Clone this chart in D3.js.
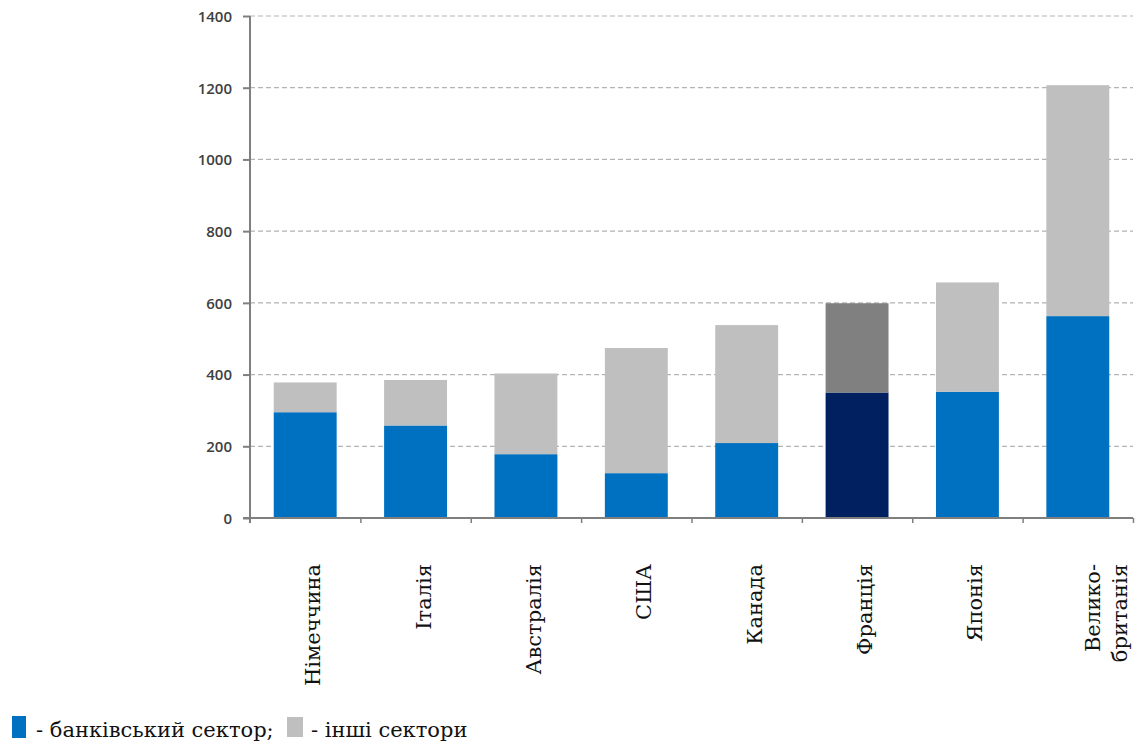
<!DOCTYPE html>
<html>
<head>
<meta charset="utf-8">
<script src="https://cdn.jsdelivr.net/npm/d3@7"></script>
<style>
  body { margin: 0; background: #fff; }
  .xlabel { font-family: "DejaVu Serif", serif; font-size: 21px; fill: #111; }
  .legend text { font-family: "DejaVu Serif", serif; font-size: 21px; fill: #111; }
</style>
</head>
<body>
<div id="plot"></div>
<script>
// data
var countries = [["Німеччина"], ["Італія"], ["Австралія"], ["США"], ["Канада"], ["Франція"], ["Японія"], ["Велико-", "британія"]]
var banking = [295, 258, 178, 125, 209, 350, 352, 563]
var others = [83, 127, 225, 349, 329, 249, 305, 644]
var yTicks = [0, 200, 400, 600, 800, 1000, 1200, 1400]
var highlight = 5 // Франція drawn darker

var svgWidth = 1137
var svgHeight = 743

var margin = { top: 16, right: 4, bottom: 225, left: 250 }
var width = 1133 - margin.left
var height = 518 - margin.top

var svg = d3.select("#plot")
  .append("svg")
  .attr("width", svgWidth)
  .attr("height", svgHeight)

var chartGroup = svg.append("g")
  .attr("transform", `translate(${margin.left}, ${margin.top})`)

var xBand = d3.scaleBand()
  .domain(d3.range(countries.length))
  .range([0, width])
  .paddingInner(0.43)
  .paddingOuter(0.215)

var yLinearScale = d3.scaleLinear()
  .domain([0, 1400])
  .range([height, 0])

// gridlines
chartGroup.selectAll(".grid")
  .data(yTicks.slice(1))
  .enter()
  .append("line")
  .attr("x1", 0)
  .attr("x2", width)
  .attr("y1", d => yLinearScale(d))
  .attr("y2", d => yLinearScale(d))
  .attr("stroke", "#b3b3b3")
  .attr("stroke-width", 1.2)
  .attr("stroke-dasharray", "5,3")

// stacked bars
var stack = countries.map((c, i) => ({ i: i, bank: banking[i], other: others[i] }))

chartGroup.selectAll(".bank")
  .data(stack)
  .enter()
  .append("rect")
  .attr("x", d => xBand(d.i))
  .attr("width", xBand.bandwidth())
  .attr("y", d => yLinearScale(d.bank))
  .attr("height", d => height - yLinearScale(d.bank))
  .attr("fill", d => d.i === highlight ? "#002060" : "#0070c0")

chartGroup.selectAll(".other")
  .data(stack)
  .enter()
  .append("rect")
  .attr("x", d => xBand(d.i))
  .attr("width", xBand.bandwidth())
  .attr("y", d => yLinearScale(d.bank + d.other))
  .attr("height", d => yLinearScale(d.bank) - yLinearScale(d.bank + d.other))
  .attr("fill", d => d.i === highlight ? "#808080" : "#bfbfbf")

// y axis
var leftAxis = d3.axisLeft(yLinearScale)
  .tickValues(yTicks)
  .tickSize(7)
  .tickPadding(11)
  .tickFormat(d3.format("d"))

var yAxis = chartGroup.append("g")
  .call(leftAxis)
yAxis.select(".domain").attr("stroke", "#7f7f7f").attr("stroke-width", 2).attr("d", `M0,0V${height + 5}`)
yAxis.selectAll(".tick line").attr("stroke", "#7f7f7f").attr("stroke-width", 2)
yAxis.selectAll(".tick text")
  .attr("dy", "0.36em")
  .attr("font-family", null)
  .attr("font-size", null)
  .style("font-family", "'Open Sans', sans-serif")
  .style("font-weight", 600)
  .style("font-size", "15px")
  .style("fill", "#404040")

// x axis with ticks at band edges
var edgeScale = d3.scaleLinear().domain([0, countries.length]).range([0, width])
var bottomAxis = d3.axisBottom(edgeScale)
  .tickValues(d3.range(1, countries.length + 1))
  .tickSize(5)
  .tickFormat("")

var xAxis = chartGroup.append("g")
  .attr("transform", `translate(0, ${height})`)
  .call(bottomAxis)
xAxis.select(".domain").attr("stroke", "#7f7f7f").attr("stroke-width", 2).attr("d", `M-7,0H${width}`)
xAxis.selectAll(".tick line").attr("stroke", "#7f7f7f").attr("stroke-width", 1.5)

// rotated category labels
var labelGroup = svg.append("g")
countries.forEach((lines, i) => {
  var cx = margin.left + xBand(i) + xBand.bandwidth() / 2
  var first = lines.length > 1 ? 22 : 15
  lines.forEach((txt, j) => {
    labelGroup.append("text")
      .attr("class", "xlabel")
      .attr("transform", `translate(${cx + first + j * 27}, ${518 + 46}) rotate(-90)`)
      .attr("text-anchor", "end")
      .text(txt)
  })
})

// legend
var legend = svg.append("g").attr("class", "legend")
legend.append("rect").attr("x", 12).attr("y", 716).attr("width", 14).attr("height", 22).attr("fill", "#0070c0")
legend.append("text").attr("x", 36).attr("y", 737).text("- банківський сектор;")
legend.append("rect").attr("x", 287).attr("y", 717).attr("width", 16).attr("height", 20).attr("fill", "#bfbfbf")
legend.append("text").attr("x", 311).attr("y", 737).text("- інші сектори")
</script>
</body>
</html>
